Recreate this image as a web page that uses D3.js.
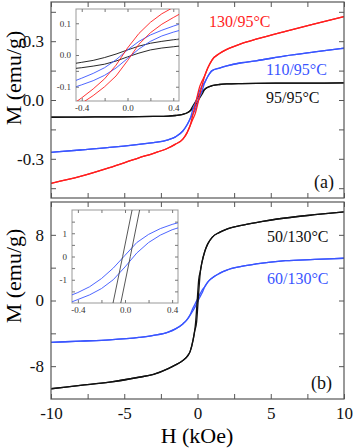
<!DOCTYPE html>
<html>
  <head>
    <meta charset="utf-8">
    <title>M-H loops</title>
    <script src="https://d3js.org/d3.v7.min.js"></script>
    <style>
      body { margin: 0; background: #fff; }
      svg { display: block; }
      svg text { font-family: "Liberation Serif", serif; }
      .frame { fill: none; stroke: #555; stroke-width: 1.2; }
      .inframe { fill: #fff; stroke: #999; stroke-width: 1; }
      .curve { fill: none; stroke-width: 1.3; }
      .thin { fill: none; stroke-width: 0.9; }
    </style>
  </head>
  <body>
    <svg id="chart" width="354" height="448"></svg>
    <script>
      // field grid shared by most main curves (kOe)
      hOut = [-10, -8, -6, -4, -3, -2, -1.5, -1, -0.7, -0.5, 0.5, 0.7, 1, 1.5, 2, 3, 4, 6, 8, 10];
      hMid = [-0.3, -0.15, 0, 0.15, 0.3];
      // panel (a), main plot (emu/g)
      redOut = [-0.425, -0.39, -0.345, -0.295, -0.272, -0.245, -0.225, -0.2, -0.165, -0.13, 0.125, 0.163, 0.205, 0.237, 0.258, 0.288, 0.31, 0.35, 0.388, 0.425];
      blueOut = [-0.267, -0.255, -0.242, -0.226, -0.217, -0.203, -0.188, -0.158, -0.125, -0.095, 0.09, 0.12, 0.15, 0.163, 0.174, 0.19, 0.2, 0.225, 0.245, 0.264];
      blackOut = [-0.088, -0.087, -0.086, -0.085, -0.084, -0.082, -0.079, -0.073, -0.065, -0.055, 0.055, 0.065, 0.073, 0.079, 0.082, 0.084, 0.085, 0.086, 0.086, 0.087];
      redMidDown = [-0.07, -0.027, 0.025, 0.068, 0.095];
      redMidUp = [-0.095, -0.068, -0.025, 0.027, 0.07];
      blueMidDown = [-0.045, -0.018, 0.016, 0.048, 0.07];
      blueMidUp = [-0.07, -0.048, -0.016, 0.018, 0.045];
      blackMidDown = [-0.028, -0.01, 0.01, 0.028, 0.043];
      blackMidUp = [-0.043, -0.028, -0.01, 0.01, 0.028];
      // panel (a), low field loop (inset)
      hIn = [-0.45, -0.4, -0.3, -0.2, -0.1, 0, 0.1, 0.2, 0.3, 0.4, 0.45];
      redDown = [-0.148, -0.135, -0.107, -0.075, -0.032, 0.022, 0.068, 0.103, 0.13, 0.15, 0.158];
      redUp = [-0.162, -0.152, -0.128, -0.1, -0.066, -0.018, 0.034, 0.07, 0.097, 0.118, 0.128];
      blueDown = [-0.08, -0.073, -0.058, -0.04, -0.015, 0.016, 0.043, 0.063, 0.078, 0.091, 0.097];
      blueUp = [-0.1, -0.094, -0.081, -0.064, -0.041, -0.011, 0.019, 0.043, 0.06, 0.072, 0.077];
      blackDown = [-0.026, -0.023, -0.017, -0.008, 0.003, 0.016, 0.028, 0.037, 0.043, 0.048, 0.05];
      blackUp = [-0.042, -0.04, -0.035, -0.029, -0.019, -0.006, 0.006, 0.016, 0.022, 0.026, 0.028];
      // panel (b), main plot
      blueOutB = [-5.1, -4.95, -4.8, -4.5, -4.25, -3.85, -3.45, -2.85, -2.3, -1.75, 1.7, 2.25, 2.75, 3.3, 3.7, 4.15, 4.45, 4.85, 5.0, 5.15];
      blueMidDownB = [-0.88, -0.37, 0.18, 0.72, 1.22];
      blueMidUpB = [-1.22, -0.72, -0.18, 0.37, 0.88];
      hOutBk = [-10, -8, -6, -4, -3, -2, -1.5, -1, -0.7, -0.5, -0.3, -0.2, 0.2, 0.3, 0.5, 0.7, 1, 1.5, 2, 3, 4, 6, 8, 10];
      blackOutB = [-10.75, -10.35, -9.95, -9.35, -9.0, -8.3, -7.85, -7.3, -6.8, -6.2, -4.8, -3.8, 3.6, 4.6, 6.0, 6.9, 7.7, 8.3, 8.7, 9.15, 9.5, 10.05, 10.45, 10.8];
      hBkDown = [-0.13, -0.02, 0.08];
      blackDownB = [-2.7, 0, 2.5];
      hBkUp = [-0.06, 0.045, 0.14];
      blackUpB = [-2.6, 0, 2.4];
      // panel (b), inset
      blueDownB = [-1.65, -1.55, -1.3, -0.95, -0.5, 0.05, 0.6, 0.95, 1.2, 1.38, 1.45];
      blueUpB = [-1.95, -1.85, -1.65, -1.38, -1.0, -0.45, 0.15, 0.6, 0.92, 1.15, 1.23];
      // ticks and labels
      xTicks = [-10, -7.5, -5, -2.5, 0, 2.5, 5, 7.5, 10];
      xLabels = [-10, -5, 0, 5, 10];
      yTicksA = [-0.45, -0.3, -0.15, 0, 0.15, 0.3, 0.45];
      yLabelsA = [-0.3, 0, 0.3];
      yTicksB = [-8, -4, 0, 4, 8];
      yLabelsB = [-8, 0, 8];
      inXTicks = [-0.4, -0.2, 0, 0.2, 0.4];
      inXLabels = [-0.4, 0, 0.4];
      inYTicksA = [-0.1, -0.05, 0, 0.05, 0.1];
      inYLabelsA = [-0.1, 0, 0.1];
      inYTicksB = [-1.5, -1, -0.5, 0, 0.5, 1, 1.5];
      inYLabelsB = [-1, 0, 1];

      RED = "#ff1e1e";
      BLUE = "#3a55ff";
      BLACK = "#111";
      FONT = "Liberation Serif";

      chart = d3.select("#chart");

      function zip(h, m) { return h.map(function(v, i) { return [v, m[i]]; }); }
      function join(hO, mO, hI, mI) {
        var pts = zip(hO, mO).concat(zip(hI, mI));
        return pts.sort(function(a, b) { return a[0] - b[0]; });
      }
      function fmt(dec, list) {
        return function(d) {
          if (list.indexOf(d) < 0) return "";
          return d3.format("." + dec + "f")(d).replace("\u2212", "-");
        };
      }

      // framed box with inward ticks on all four sides
      function box(id, xs, ys, o) {
        var g = chart.append("g");
        var x0 = xs.range()[0], x1 = xs.range()[1], y0 = ys.range()[1], y1 = ys.range()[0];
        if (o.inset) g.append("rect").attr("class", "inframe").attr("x", x0).attr("y", y0).attr("width", x1 - x0).attr("height", y1 - y0);
        chart.append("clipPath").attr("id", id).append("rect")
          .attr("x", x0).attr("y", y0).attr("width", x1 - x0).attr("height", y1 - y0);
        var curves = g.append("g").attr("clip-path", "url(#" + id + ")");
        var blank = function() { return ""; };
        var axes = [
          d3.axisBottom(xs).tickValues(o.xt).tickFormat(o.xf || blank),
          d3.axisTop(xs).tickValues(o.xt).tickFormat(blank),
          d3.axisLeft(ys).tickValues(o.yt).tickFormat(o.yf),
          d3.axisRight(ys).tickValues(o.yt).tickFormat(blank)
        ];
        var pos = ["translate(0," + y1 + ")", "translate(0," + y0 + ")", "translate(" + x0 + ",0)", "translate(" + x1 + ",0)"];
        axes.forEach(function(a, i) {
          var ax = g.append("g").attr("transform", pos[i])
            .call(a.tickSize(-o.tick).tickSizeOuter(0).tickPadding(o.pad[i]));
          ax.attr("font-family", null).attr("font-size", null);
          ax.select(".domain").remove();
          ax.selectAll("text").style("font-family", FONT).style("font-size", o.fs + "px").attr("fill", o.tc);
          ax.selectAll(".tick line").attr("stroke", o.lc);
        });
        if (!o.inset) g.append("rect").attr("class", "frame").attr("x", x0).attr("y", y0).attr("width", x1 - x0).attr("height", y1 - y0);
        return curves;
      }

      function draw(g, xs, ys, pts, color, cls, curve) {
        g.append("path")
          .datum(pts)
          .attr("class", cls)
          .attr("stroke", color)
          .attr("d", d3.line().x(function(d) { return xs(d[0]); }).y(function(d) { return ys(d[1]); }).curve(curve));
      }

      // scales
      x = d3.scaleLinear().domain([-10, 10]).range([51, 344]);
      yA = d3.scaleLinear().domain([-0.5, 0.5]).range([198, 2]);
      yB = d3.scaleLinear().domain([-12, 12]).range([399, 202]);
      xInA = d3.scaleLinear().domain([-0.45, 0.45]).range([76, 179]);
      yInA = d3.scaleLinear().domain([-0.145, 0.145]).range([101, 9]);
      xInB = d3.scaleLinear().domain([-0.45, 0.45]).range([72, 178]);
      yInB = d3.scaleLinear().domain([-2, 2]).range([303, 210]);

      // panel (a)
      gA = box("clipA", x, yA, { xt: xTicks, yt: yTicksA, yf: fmt(1, yLabelsA), tick: 5, pad: [8, 3, 7, 3], fs: 17, tc: "#111", lc: "#555" });
      [[blackOut, blackMidDown, blackMidUp, BLACK], [blueOut, blueMidDown, blueMidUp, BLUE], [redOut, redMidDown, redMidUp, RED]].forEach(function(s) {
        draw(gA, x, yA, join(hOut, s[0], hMid, s[1]), s[3], "curve", d3.curveMonotoneX);
        draw(gA, x, yA, join(hOut, s[0], hMid, s[2]), s[3], "curve", d3.curveMonotoneX);
      });
      gAi = box("clipAi", xInA, yInA, { inset: true, xt: inXTicks, xf: fmt(1, inXLabels), yt: inYTicksA, yf: fmt(1, inYLabelsA), tick: 3, pad: [4, 3, 5, 3], fs: 9, tc: "#333", lc: "#777" });
      [[blackDown, blackUp, BLACK], [blueDown, blueUp, BLUE], [redDown, redUp, RED]].forEach(function(s) {
        draw(gAi, xInA, yInA, zip(hIn, s[0]), s[2], "thin", d3.curveLinear);
        draw(gAi, xInA, yInA, zip(hIn, s[1]), s[2], "thin", d3.curveLinear);
      });

      // panel (b)
      gB = box("clipB", x, yB, { xt: xTicks, xf: fmt(0, xLabels), yt: yTicksB, yf: fmt(0, yLabelsB), tick: 5, pad: [8, 3, 7, 3], fs: 17, tc: "#111", lc: "#555" });
      draw(gB, x, yB, join(hOut, blueOutB, hMid, blueMidDownB), BLUE, "curve", d3.curveMonotoneX);
      draw(gB, x, yB, join(hOut, blueOutB, hMid, blueMidUpB), BLUE, "curve", d3.curveMonotoneX);
      draw(gB, x, yB, join(hOutBk, blackOutB, hBkDown, blackDownB), BLACK, "curve", d3.curveMonotoneX);
      draw(gB, x, yB, join(hOutBk, blackOutB, hBkUp, blackUpB), BLACK, "curve", d3.curveMonotoneX);
      gBi = box("clipBi", xInB, yInB, { inset: true, xt: inXTicks, xf: fmt(1, inXLabels), yt: inYTicksB, yf: fmt(0, inYLabelsB), tick: 3, pad: [4, 3, 5, 3], fs: 9, tc: "#333", lc: "#777" });
      draw(gBi, xInB, yInB, zip(hIn, blueDownB), BLUE, "thin", d3.curveLinear);
      draw(gBi, xInB, yInB, zip(hIn, blueUpB), BLUE, "thin", d3.curveLinear);
      draw(gBi, xInB, yInB, zip(hBkDown, blackDownB), "#444", "thin", d3.curveLinear);
      draw(gBi, xInB, yInB, zip(hBkUp, blackUpB), "#444", "thin", d3.curveLinear);

      // labels
      labels = [
        { t: "130/95°C", x: 209, y: 27, c: RED, s: 16 },
        { t: "110/95°C", x: 266, y: 75, c: BLUE, s: 16 },
        { t: "95/95°C", x: 266, y: 103, c: BLACK, s: 16 },
        { t: "(a)", x: 314, y: 188, c: BLACK, s: 18 },
        { t: "50/130°C", x: 267, y: 242, c: BLACK, s: 16 },
        { t: "60/130°C", x: 267, y: 284, c: BLUE, s: 16 },
        { t: "(b)", x: 311, y: 389, c: BLACK, s: 18 }
      ];
      chart.selectAll(".lbl").data(labels).enter().append("text")
        .attr("x", function(d) { return d.x; })
        .attr("y", function(d) { return d.y; })
        .attr("fill", function(d) { return d.c; })
        .style("font-family", FONT)
        .style("font-size", function(d) { return d.s + "px"; })
        .text(function(d) { return d.t; });

      chart.append("text").attr("x", 197).attr("y", 443).attr("text-anchor", "middle")
        .style("font-family", FONT).style("font-size", "22px").text("H (kOe)");
      [78, 276].forEach(function(cy) {
        chart.append("text").attr("transform", "translate(21," + cy + ") rotate(-90)")
          .attr("text-anchor", "middle").style("font-family", FONT).style("font-size", "22px").text("M (emu/g)");
      });
    </script>
  </body>
</html>
